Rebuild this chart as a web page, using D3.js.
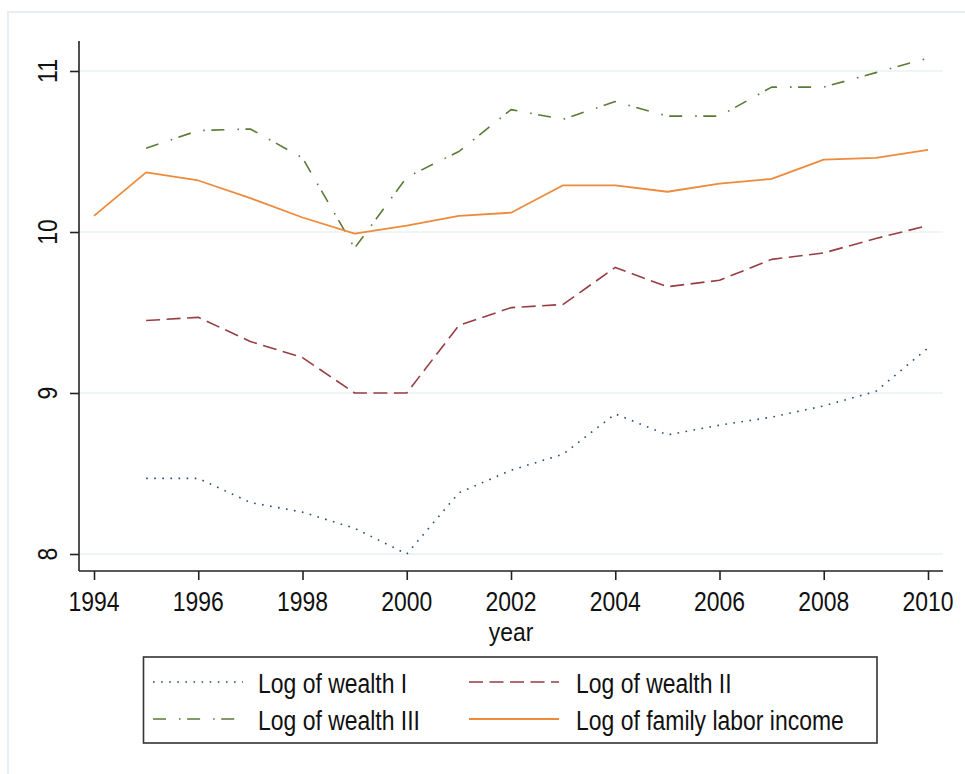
<!DOCTYPE html>
<html>
<head>
<meta charset="utf-8">
<script src="https://cdn.jsdelivr.net/npm/d3@7"></script>
<style>
  html, body { margin: 0; padding: 0; background: #ffffff; }
  svg { display: block; }
  text { font-family: "Liberation Sans", Arial, sans-serif; fill: #111; }
</style>
</head>
<body>
<svg id="chart" width="965" height="774"></svg>
<script>
// ---- data ----
const years = [1994,1995,1996,1997,1998,1999,2000,2001,2002,2003,2004,2005,2006,2007,2008,2009,2010];
const wealthI   = [null,8.47,8.47,8.32,8.26,8.16,8.00,8.38,8.52,8.62,8.87,8.74,8.80,8.85,8.92,9.01,9.28];
const wealthII  = [null,9.45,9.47,9.32,9.22,9.00,9.00,9.42,9.53,9.55,9.78,9.66,9.70,9.83,9.87,9.96,10.04];
const wealthIII = [null,10.52,10.63,10.64,10.46,9.90,10.34,10.50,10.76,10.70,10.81,10.72,10.72,10.90,10.90,10.99,11.08];
const laborInc  = [10.10,10.37,10.32,10.21,10.09,9.99,10.04,10.10,10.12,10.29,10.29,10.25,10.30,10.33,10.45,10.46,10.51];
const xTicks = [1994,1996,1998,2000,2002,2004,2006,2008,2010];
const yTicks = [8,9,10,11];
const seriesNames = ["Log of wealth I","Log of wealth II","Log of wealth III","Log of family labor income"];
const xTitle = "year";

// ---- styles ----
const series = [
  {name: seriesNames[0], values: wealthI,   color: "#1f4e7a", dash: "1.6,6.5", width: 1.6},
  {name: seriesNames[1], values: wealthII,  color: "#973d45", dash: "14,6.5",  width: 1.6},
  {name: seriesNames[2], values: wealthIII, color: "#5a7b35", dash: "13,13,1.6,6.5", width: 1.6},
  {name: seriesNames[3], values: laborInc,  color: "#ee8a3c", dash: null,     width: 1.8}
];
const SX = 0.85;     // horizontal condensation of text
const FS = 27;

const svg = d3.select("#chart");

// outer graph-region border
svg.append("rect").attr("x", 8).attr("y", 12).attr("width", 980).attr("height", 800)
  .attr("fill", "none").attr("stroke", "#e6eef1").attr("stroke-width", 2);

const x = d3.scaleLinear().domain([1994, 2010]).range([94, 928]);
const y = d3.scaleLinear().domain([8, 11]).range([554, 71]);
const axL = 79, axR = 943, axB = 571, axT = 41;

// gridlines
svg.append("g").selectAll("line").data(yTicks).join("line")
  .attr("x1", axL).attr("x2", axR)
  .attr("y1", d => y(d)).attr("y2", d => y(d))
  .attr("stroke", "#eaf0f2").attr("stroke-width", 1.6);

// Y axis
const gy = svg.append("g").attr("transform", `translate(${axL},0)`)
  .call(d3.axisLeft(y).tickValues(yTicks).tickSize(9).tickFormat(""));
gy.select(".domain").attr("d", `M0,${axT}V${axB}`).attr("stroke", "#222").attr("stroke-width", 1.6);
gy.selectAll(".tick line").attr("stroke", "#222").attr("stroke-width", 1.6);
svg.append("g").selectAll("text").data(yTicks).join("text")
  .attr("transform", d => `translate(57,${y(d)}) rotate(-90) scale(${SX},1)`)
  .attr("text-anchor", "middle").attr("font-size", FS)
  .text(d => d);

// X axis
const gx = svg.append("g").attr("transform", `translate(0,${axB})`)
  .call(d3.axisBottom(x).tickValues(xTicks).tickSize(9).tickFormat(""));
gx.select(".domain").attr("d", `M${axL},0H${axR}`).attr("stroke", "#222").attr("stroke-width", 1.6);
gx.selectAll(".tick line").attr("stroke", "#222").attr("stroke-width", 1.6);
svg.append("g").selectAll("text").data(xTicks).join("text")
  .attr("transform", d => `translate(${x(d)},611) scale(${SX},1)`)
  .attr("text-anchor", "middle").attr("font-size", FS)
  .text(d => d);
svg.append("text")
  .attr("transform", `translate(${(x(1994)+x(2010))/2},641) scale(0.88,1)`)
  .attr("text-anchor", "middle").attr("font-size", 26).text(xTitle);

// lines
const line = d3.line()
  .defined(d => d[1] !== null)
  .x(d => x(d[0])).y(d => y(d[1]));
const plot = svg.append("g");
series.forEach(s => {
  plot.append("path")
    .datum(years.map((yr, i) => [yr, s.values[i]]))
    .attr("d", line)
    .attr("fill", "none")
    .attr("stroke", s.color)
    .attr("stroke-width", s.width)
    .attr("stroke-dasharray", s.dash)
    .attr("stroke-linejoin", "round");
});

// legend
const lg = svg.append("g");
lg.append("rect").attr("x", 143.5).attr("y", 657).attr("width", 733.5).attr("height", 86)
  .attr("fill", "#fff").attr("stroke", "#333").attr("stroke-width", 1.6);
const cols = [{sx1: 153, sx2: 243, tx: 258}, {sx1: 469, sx2: 559, tx: 576}];
const rows = [{ly: 682, ty: 693}, {ly: 719, ty: 730}];
series.forEach((s, i) => {
  const c = cols[i % 2], r = rows[Math.floor(i / 2)];
  lg.append("line").attr("x1", c.sx1).attr("x2", c.sx2).attr("y1", r.ly).attr("y2", r.ly)
    .attr("stroke", s.color).attr("stroke-width", s.width).attr("stroke-dasharray", s.dash);
  lg.append("text").attr("transform", `translate(${c.tx},${r.ty}) scale(${SX},1)`)
    .attr("font-size", FS).text(s.name);
});
</script>
</body>
</html>
